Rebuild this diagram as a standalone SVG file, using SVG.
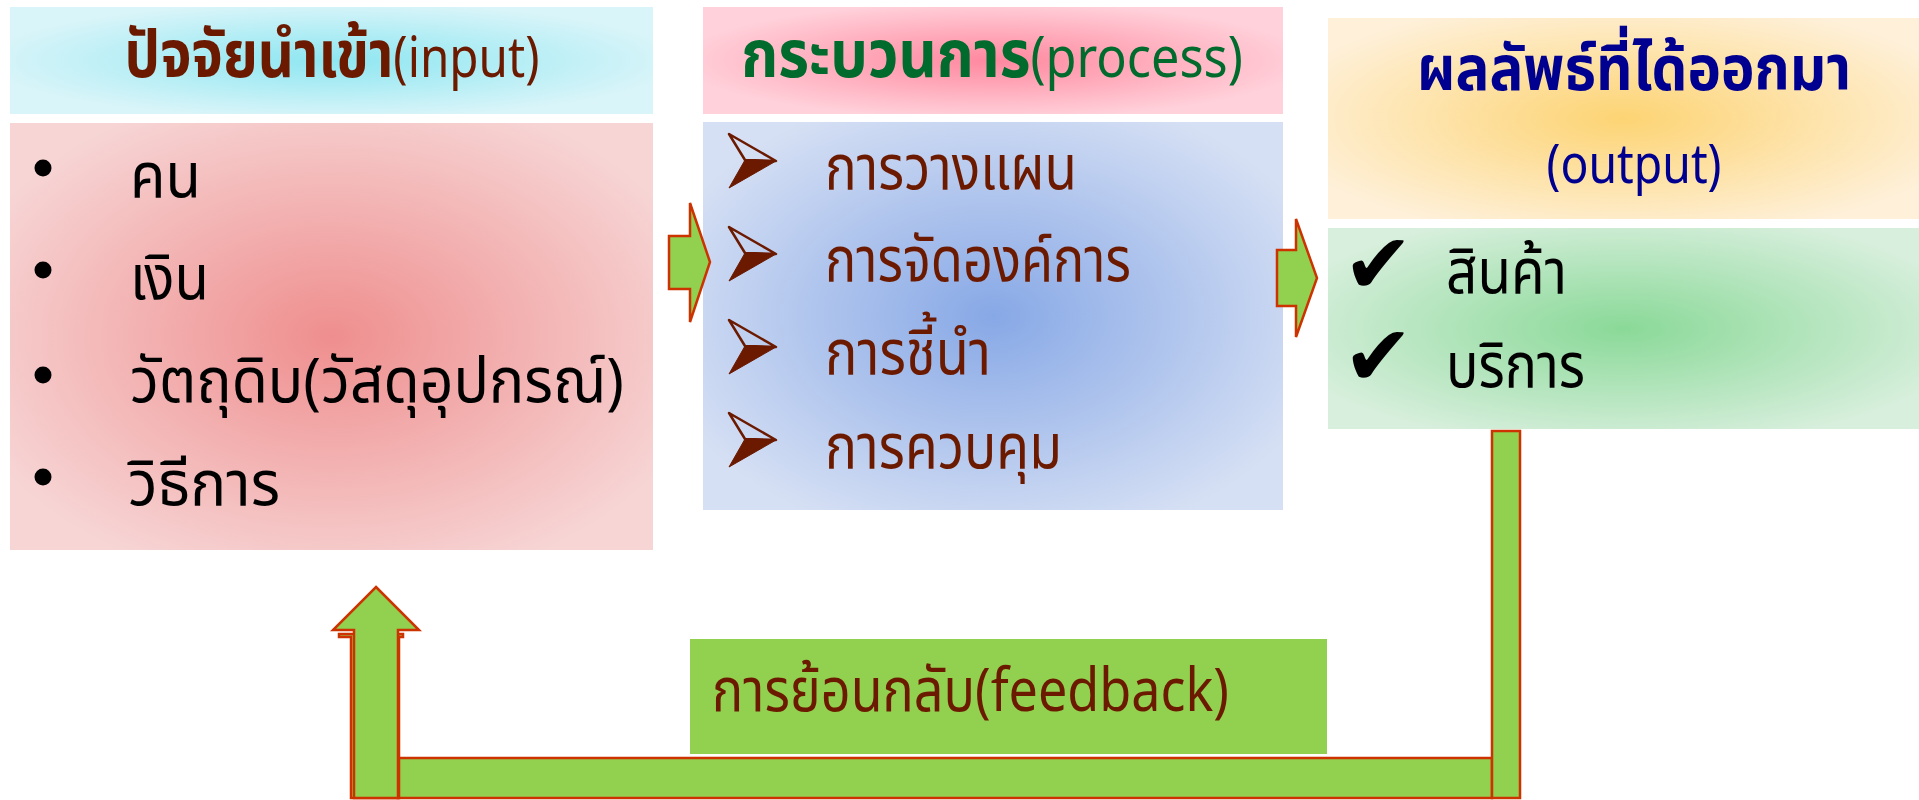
<svg xmlns="http://www.w3.org/2000/svg" width="1919" height="800" viewBox="0 0 1919 800">
<defs>
<radialGradient id="gInHead" cx="0.5" cy="0.5" r="0.55"><stop offset="0" stop-color="#8EE6F1"/><stop offset="1" stop-color="#DAF5F9"/></radialGradient>
<radialGradient id="gInBody" cx="0.5" cy="0.5" r="0.6"><stop offset="0" stop-color="#EF8E8E"/><stop offset="1" stop-color="#F7D5D5"/></radialGradient>
<radialGradient id="gPrHead" cx="0.5" cy="0.5" r="0.55"><stop offset="0" stop-color="#FF889F"/><stop offset="1" stop-color="#FFD2DB"/></radialGradient>
<radialGradient id="gPrBody" cx="0.5" cy="0.5" r="0.6"><stop offset="0" stop-color="#87A8E6"/><stop offset="1" stop-color="#D6E0F4"/></radialGradient>
<radialGradient id="gOutHead" cx="0.5" cy="0.5" r="0.6"><stop offset="0" stop-color="#FDD474"/><stop offset="1" stop-color="#FEF0D9"/></radialGradient>
<radialGradient id="gOutBody" cx="0.5" cy="0.5" r="0.6"><stop offset="0" stop-color="#8AD998"/><stop offset="1" stop-color="#D8EFDD"/></radialGradient>
</defs>
<style>
.th{font-family:"Noto Sans Thai","Noto Sans","Liberation Sans",sans-serif;}
.hd{font-size:66px;font-weight:bold;}
.lat{font-weight:normal;font-size:56px;}
.it{font-size:62px;}
.brown{fill:#6B1A00;}
.blk{fill:#000000;}
.arr{fill:#92D050;stroke:#CC3300;stroke-width:2.5;stroke-linejoin:miter;}
.bul{fill:#000000;}
.ahU{fill:none;stroke:#6B1A00;stroke-width:2.5;stroke-linejoin:round;}
.ahL{fill:#6B1A00;stroke:#6B1A00;stroke-width:1;}
.chk{font-family:"DejaVu Sans",sans-serif;font-size:84px;fill:#000000;}
</style>
<rect width="1919" height="800" fill="#FFFFFF"/>

<g id="input">
<rect x="10" y="7" width="643" height="107" fill="url(#gInHead)"/>
<text class="th hd" transform="translate(332,77) scale(0.85,1)" x="0" y="0" text-anchor="middle" fill="#6B1A00">ปัจจัยนำเข้า<tspan class="lat">(input)</tspan></text>
<rect x="10" y="123" width="643" height="427" fill="url(#gInBody)"/>
<circle class="bul" cx="43" cy="168" r="8.5"/>
<circle class="bul" cx="43" cy="270" r="8.5"/>
<circle class="bul" cx="43" cy="375" r="8.5"/>
<circle class="bul" cx="43" cy="477" r="8.5"/>
<text class="th it blk" x="130" y="197" textLength="71" lengthAdjust="spacingAndGlyphs">คน</text>
<text class="th it blk" x="130" y="299" textLength="79" lengthAdjust="spacingAndGlyphs">เงิน</text>
<text class="th it blk" x="130" y="402" textLength="494" lengthAdjust="spacingAndGlyphs">วัตถุดิบ(วัสดุอุปกรณ์)</text>
<text class="th it blk" x="128" y="505" textLength="152" lengthAdjust="spacingAndGlyphs">วิธีการ</text>
</g>

<g id="process">
<rect x="703" y="7" width="580" height="107" fill="url(#gPrHead)"/>
<text class="th hd" transform="translate(992,77) scale(0.9,1)" x="0" y="0" text-anchor="middle" fill="#006B2D">กระบวนการ<tspan class="lat">(process)</tspan></text>
<rect x="703" y="122" width="580" height="388" fill="url(#gPrBody)"/>
<polygon class="ahU" points="729,134 776,161 745,160"/>
<polygon class="ahL" points="745,160 776,161 729,188"/>
<polygon class="ahU" points="729,227 776,254 745,253"/>
<polygon class="ahL" points="745,253 776,254 729,281"/>
<polygon class="ahU" points="729,320 776,347 745,346"/>
<polygon class="ahL" points="745,346 776,347 729,374"/>
<polygon class="ahU" points="729,413 776,440 745,439"/>
<polygon class="ahL" points="745,439 776,440 729,467"/>
<text class="th it brown" x="825" y="189" textLength="252" lengthAdjust="spacingAndGlyphs">การวางแผน</text>
<text class="th it brown" x="825" y="281" textLength="306" lengthAdjust="spacingAndGlyphs">การจัดองค์การ</text>
<text class="th it brown" x="825" y="374" textLength="166" lengthAdjust="spacingAndGlyphs">การชี้นำ</text>
<text class="th it brown" x="825" y="468" textLength="237" lengthAdjust="spacingAndGlyphs">การควบคุม</text>
</g>

<g id="output">
<rect x="1328" y="18" width="591" height="201" fill="url(#gOutHead)"/>
<text class="th" x="1634" y="90" text-anchor="middle" fill="#000090" font-size="62" font-weight="bold" textLength="434" lengthAdjust="spacingAndGlyphs">ผลลัพธ์ที่ได้ออกมา</text>
<text class="th" x="1634" y="183" text-anchor="middle" fill="#000090" font-size="54" textLength="175" lengthAdjust="spacingAndGlyphs">(output)</text>
<rect x="1328" y="228" width="591" height="201" fill="url(#gOutBody)"/>
<text class="chk" x="1343" y="293">✔</text>
<text class="chk" x="1343" y="385">✔</text>
<text class="th it blk" x="1446" y="293" textLength="121" lengthAdjust="spacingAndGlyphs">สินค้า</text>
<text class="th it blk" x="1446" y="387" textLength="139" lengthAdjust="spacingAndGlyphs">บริการ</text>
</g>

<g id="feedback-label">
<rect x="690" y="639" width="637" height="115" fill="#92D050"/>
<text class="th brown" x="712" y="711" font-size="60" textLength="517" lengthAdjust="spacingAndGlyphs">การย้อนกลับ(feedback)</text>
</g>

<g id="connectors">
<polygon class="arr" points="669,236 690,236 690,203 710,262 690,322 690,289 669,289"/>
<polygon class="arr" points="1277,250 1296,250 1296,219 1317,278 1296,337 1296,306 1277,306"/>
<rect class="arr" x="398" y="758" width="1094" height="40"/>
<rect class="arr" x="1492" y="431" width="28" height="367"/>
<polygon class="arr" points="339,634 403,634 403,637 399,637 399,798 351,798 351,637 339,637"/>
<polygon class="arr" points="376,587 419,630 398,630 398,798 354,798 354,630 333,630"/>
</g>
</svg>
